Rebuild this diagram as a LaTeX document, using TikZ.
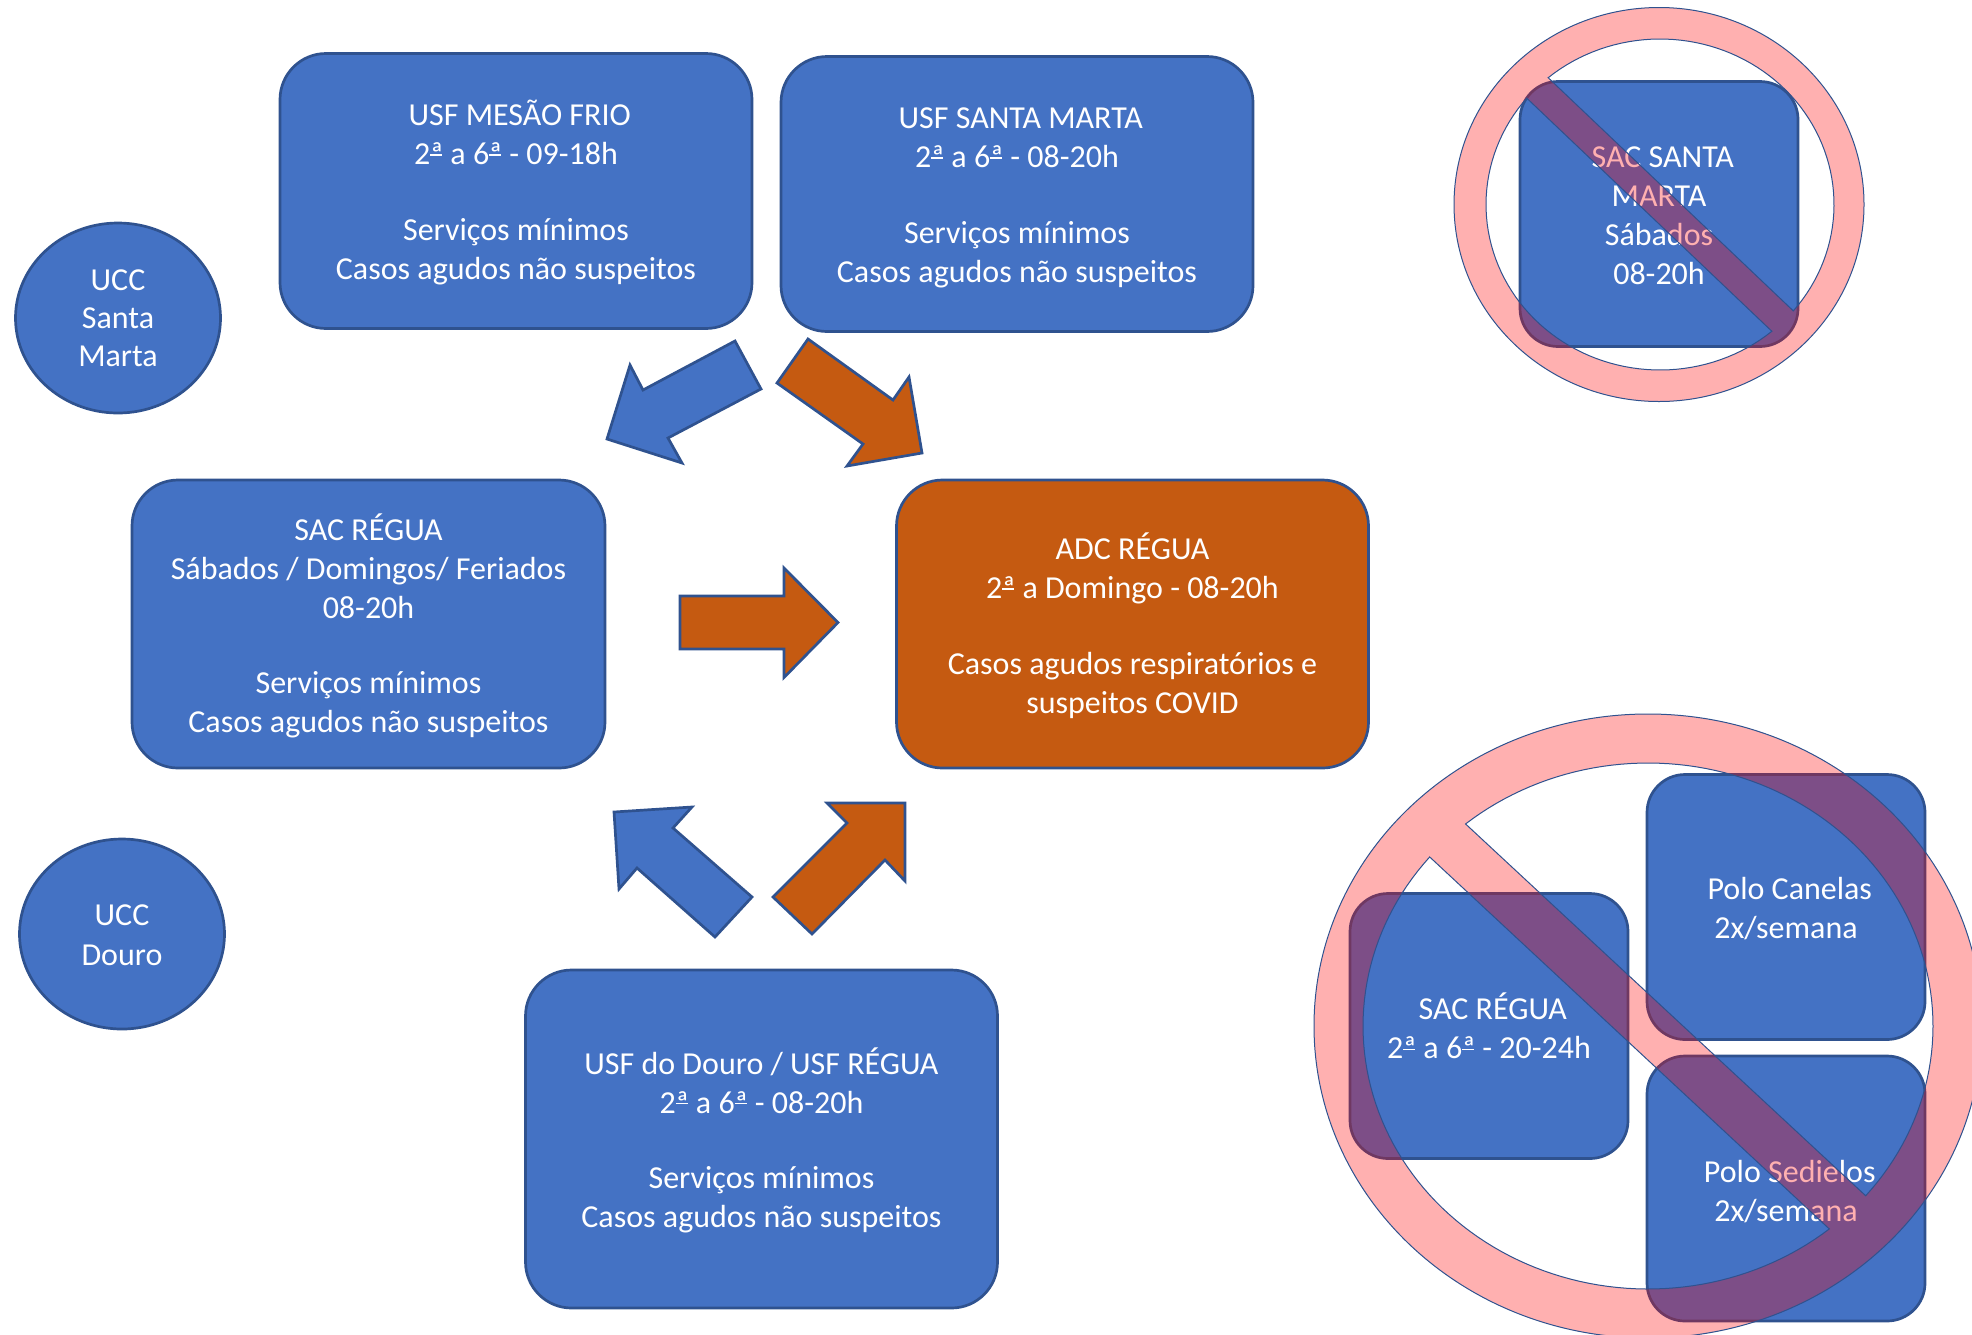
\documentclass[tikz,border=0pt]{standalone}
\usepackage{fontspec}
\usetikzlibrary{shapes.geometric}
\setmainfont{Carlito}
\definecolor{boxblue}{HTML}{4472C4}
\definecolor{boxline}{HTML}{2F528F}
\definecolor{boxorange}{HTML}{C55A11}
\newcommand{\ordA}{\rlap{\raisebox{0.27em}{\rule{0.37em}{0.05em}}}ª}
\newcommand{\tsp}{\hspace*{7.5pt}}
\newcommand{\tup}[1]{\rule{0pt}{#1pt}}
\tikzset{
 x=1pt,y=-1pt,
 pill/.style={draw=boxline,line width=2.7pt,fill=boxblue,rounded corners=46pt,text=white,align=center,font=\fontsize{32}{39}\selectfont,inner sep=0pt},
 orangepill/.style={pill,fill=boxorange},
 smallpill/.style={pill,rounded corners=38pt,minimum width=278pt,minimum height=265pt},
 oval/.style={draw=boxline,line width=2.7pt,fill=boxblue,text=white,align=center,font=\fontsize{32}{38}\selectfont,inner sep=0pt},
 blockarrow/.style={draw=boxline,line width=2.7pt,fill=boxblue,line join=miter},
 orangearrow/.style={blockarrow,fill=boxorange},
 forbid/.style={draw=boxline,line width=1pt,fill=red,fill opacity=0.31,draw opacity=1,even odd rule},
}
\begin{document}
\begin{tikzpicture}
\useasboundingbox (0,0) rectangle (1972,1334);
\clip (0,0) rectangle (1972,1334);
% boxes
\node[pill,minimum width=472pt,minimum height=275pt] (mesao) at (516,191) {\tup{28}\tsp USF MESÃO FRIO\\2\ordA{} a 6\ordA{} - 09-18h\\[36.5pt]Serviços mínimos\\Casos agudos não suspeitos};
\node[pill,minimum width=472pt,minimum height=275pt] (marta) at (1017,194) {\tup{28}\tsp USF SANTA MARTA\\2\ordA{} a 6\ordA{} - 08-20h\\[36.5pt]Serviços mínimos\\Casos agudos não suspeitos};
\node[pill,minimum width=473pt,minimum height=288pt] (sac) at (368.5,624) {\tup{30}SAC RÉGUA\\Sábados / Domingos/ Feriados\\08-20h\\[36.5pt]Serviços mínimos\\Casos agudos não suspeitos};
\node[orangepill,minimum width=472pt,minimum height=288pt] (adc) at (1132.5,624) {\tup{30}ADC RÉGUA\\2\ordA{} a Domingo - 08-20h\\[36.5pt]Casos agudos respiratórios e\\suspeitos COVID};
\node[pill,minimum width=472pt,minimum height=338pt] (douro) at (761.5,1139) {\tup{29}USF do Douro / USF RÉGUA\\2\ordA{} a 6\ordA{} - 08-20h\\[36.5pt]Serviços mínimos\\Casos agudos não suspeitos};
\node[oval,ellipse,minimum width=205pt,minimum height=190pt] (uccm) at (118,318) {UCC\\Santa\\Marta};
\node[oval,ellipse,minimum width=205pt,minimum height=190pt] (uccd) at (122,934) {\tup{23}UCC\\[2pt]Douro};
\node[smallpill] (sacsm) at (1659,214) {\tup{24}\tsp SAC SANTA\\MARTA\\Sábados\\08-20h};
\node[smallpill] (sacr) at (1489,1026) {\tup{27}\tsp SAC RÉGUA\\2\ordA{} a 6\ordA{} - 20-24h};
\node[smallpill] (canelas) at (1786,907) {\tup{26}\tsp Polo Canelas\\2x/semana};
\node[smallpill] (sedielos) at (1786,1188.5) {\tup{29}\tsp Polo Sedielos\\2x/semana};
% arrows
\draw[blockarrow] (735,341) -- (761,389) -- (668,438) -- (682,463) -- (607,439) -- (630,365) -- (643,390) -- cycle;
\draw[orangearrow] (808,339) -- (777,383) -- (863,444) -- (847,466) -- (922,453) -- (909,377) -- (893,400) -- cycle;
\draw[orangearrow] (680,596) -- (784,596) -- (784,568) -- (838,622.5) -- (784,677.5) -- (784,649) -- (680,649) -- cycle;
\draw[blockarrow] (752,897) -- (715,937) -- (637,868) -- (619,889) -- (614,812) -- (692,807) -- (673,828) -- cycle;
\draw[orangearrow] (773,897) -- (812,934) -- (885,860) -- (905,881) -- (905,803) -- (827,803) -- (847,823) -- cycle;
% forbid signs
\path[forbid] (1659,204.5) ellipse [x radius=205,y radius=197]
 plot[domain=130:-40,samples=70,variable=\t] ({1660+174*cos(\t)},{204.5-165.5*sin(\t)}) -- cycle
 plot[domain=140:310,samples=70,variable=\t] ({1660+174*cos(\t)},{204.5-165.5*sin(\t)}) -- cycle;
\path[forbid] (1648,1026) ellipse [x radius=334,y radius=312]
 plot[domain=129.8:-40.2,samples=90,variable=\t] ({1648+285*cos(\t)},{1026-263*sin(\t)}) -- cycle
 plot[domain=140:309.5,samples=90,variable=\t] ({1648+285*cos(\t)},{1026-263*sin(\t)}) -- cycle;
\end{tikzpicture}
\end{document}
